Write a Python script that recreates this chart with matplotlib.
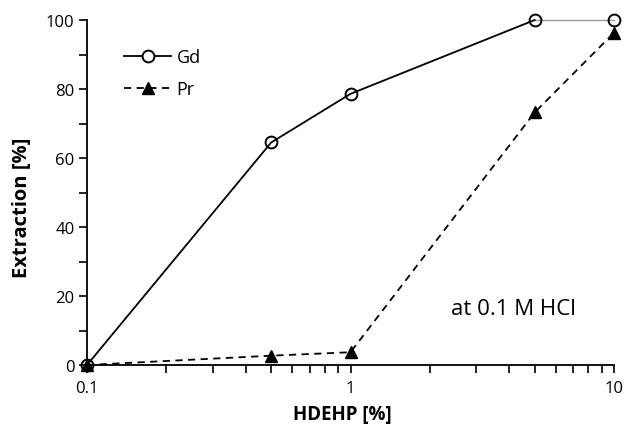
import matplotlib
matplotlib.use("Agg")
import matplotlib.pyplot as plt
from matplotlib.ticker import FixedLocator, NullFormatter, LogLocator

plt.rcParams['font.family'] = ['Open Sans', 'DejaVu Sans']

# HDEHP concentration [%]
hdehp = [0.1, 0.5, 1, 5, 10]
gd_extraction = [0, 64.5, 78.6, 100, 100]
pr_extraction = [0, 2.7, 3.7, 73.2, 96.3]

x_ticks = [0.1, 1, 10]
x_labels = ["0.1", "1", "10"]
y_ticks = [0, 20, 40, 60, 80, 100]

fig = plt.figure(figsize=(6.25, 4.27), dpi=100)
ax = fig.add_axes([87 / 625, 1 - 366 / 427, (614 - 87) / 625, (366 - 21) / 427])

# Gd: solid black up to 5 %, thin grey last segment
ax.plot(hdehp[3:], gd_extraction[3:], color="#999999", lw=1.0, zorder=2,
        clip_on=False)
ax.plot(hdehp[:4], gd_extraction[:4], color="black", lw=1.3, zorder=3,
        clip_on=False)
ax.plot(hdehp, pr_extraction, color="black", lw=1.3, ls=(0, (4, 3)),
        marker="^", ms=8, mfc="black", mec="black", zorder=4, clip_on=False)
ax.plot(hdehp, gd_extraction, ls="none", marker="o", ms=8.5, mfc="none",
        mec="black", mew=1.4, zorder=5, clip_on=False)

# legend handles
h_gd, = ax.plot([], [], color="black", lw=1.3, marker="o", ms=8.5, mfc="white",
                mec="black", mew=1.4, label="Gd")
h_pr, = ax.plot([], [], color="black", lw=1.3, ls=(0, (4, 3)), marker="^",
                ms=8, mfc="black", label="Pr")
ax.legend(handles=[h_gd, h_pr], loc="upper left", bbox_to_anchor=(0.04, 0.965),
          frameon=False, fontsize=13, handlelength=2.6, handletextpad=0.3,
          labelspacing=0.75)

ax.set_xscale("log")
ax.set_xlim(0.1, 10)
ax.set_ylim(0, 100)
ax.set_xticks(x_ticks)
ax.set_xticklabels(x_labels)
ax.xaxis.set_minor_locator(LogLocator(base=10, subs=range(2, 10)))
ax.xaxis.set_minor_formatter(NullFormatter())
ax.set_yticks(y_ticks)
ax.yaxis.set_minor_locator(FixedLocator(range(10, 100, 20)))

for s in ("top", "right"):
    ax.spines[s].set_visible(False)
for s in ("left", "bottom"):
    ax.spines[s].set_linewidth(1.3)

ax.tick_params(axis="both", which="both", direction="out", width=1.2,
               labelsize=12, colors="black")
ax.tick_params(axis="both", which="major", length=6)
ax.tick_params(axis="both", which="minor", length=6)
ax.tick_params(axis="x", pad=5)
ax.tick_params(axis="y", pad=3)

ax.set_xlabel("HDEHP [%]", fontsize=13.5, fontweight="bold")
ax.set_ylabel("Extraction [%]", fontsize=14.5, fontweight="bold")
ax.xaxis.set_label_coords(0.484, -0.112)
ax.yaxis.set_label_coords(-0.104, 0.458)

ax.text(0.69, 0.165, "at 0.1 M HCl", transform=ax.transAxes, fontsize=16,
        ha="left", va="center")

fig.savefig("out.png", dpi=100)
